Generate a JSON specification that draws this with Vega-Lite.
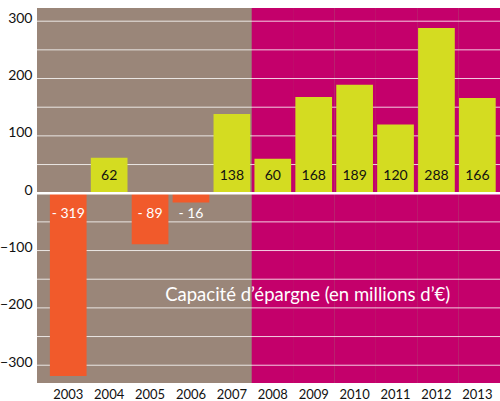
{
  "$schema": "https://vega.github.io/schema/vega-lite/v6.json",
  "width": 463,
  "height": 375,
  "autosize": {"type": "none"},
  "padding": {"left": 37, "top": 8, "right": 0, "bottom": 18},
  "config": {
    "view": {"fill": "#9a8679", "stroke": null},
    "font": "Lato"
  },
  "datasets": {
    "capacite": [
      {"year": "2003", "value": -319, "label": "- 319"},
      {"year": "2004", "value": 62, "label": "62"},
      {"year": "2005", "value": -89, "label": "- 89"},
      {"year": "2006", "value": -16, "label": "- 16"},
      {"year": "2007", "value": 138, "label": "138"},
      {"year": "2008", "value": 60, "label": "60"},
      {"year": "2009", "value": 168, "label": "168"},
      {"year": "2010", "value": 189, "label": "189"},
      {"year": "2011", "value": 120, "label": "120"},
      {"year": "2012", "value": 288, "label": "288"},
      {"year": "2013", "value": 166, "label": "166"}
    ],
    "periode": [
      {"year": "2008"}, {"year": "2009"}, {"year": "2010"},
      {"year": "2011"}, {"year": "2012"}, {"year": "2013"}
    ],
    "grille": [
      {"v": -300}, {"v": -250}, {"v": -200}, {"v": -150}, {"v": -100}, {"v": -50},
      {"v": 50}, {"v": 100}, {"v": 150}, {"v": 200}, {"v": 250}, {"v": 300}
    ],
    "titre": [
      {"year": "2009", "value": -177, "t": "Capacité d’épargne (en millions d’€)"}
    ]
  },
  "resolve": {"scale": {"x": "independent"}},
  "layer": [
    {
      "data": {"name": "periode"},
      "mark": {"type": "rect", "color": "#c4006b"},
      "encoding": {
        "x": {
          "field": "year", "type": "nominal", "axis": null,
          "scale": {
            "domain": ["2003","2004","2005","2006","2007","2008","2009","2010","2011","2012","2013"],
            "paddingInner": 0, "paddingOuter": 0.094, "align": 1
          }
        }
      }
    },
    {
      "layer": [
        {
          "data": {"name": "grille"},
          "mark": {"type": "rule", "color": "white", "strokeWidth": 1, "opacity": 0.8},
          "encoding": {
            "y": {"field": "v", "type": "quantitative"}
          }
        },
        {
          "data": {"name": "capacite"},
          "mark": {"type": "bar"},
          "encoding": {
            "x": {
              "field": "year", "type": "nominal", "title": null,
              "scale": {"paddingInner": 0.103, "paddingOuter": 0.21, "align": 0.75},
              "axis": {
                "labelAngle": 0, "ticks": false, "domain": false,
                "labelFontSize": 13, "labelColor": "#111111", "labelPadding": 5
              }
            },
            "y": {
              "field": "value", "type": "quantitative", "title": null,
              "scale": {"domain": [-331, 323], "nice": false, "zero": false},
              "axis": {
                "values": [-300, -200, -100, 0, 100, 200, 300],
                "grid": false, "ticks": false, "domain": false,
                "labelFontSize": 14, "labelColor": "#111111", "labelPadding": 5,
                "labelOffset": -3
              }
            },
            "color": {
              "condition": {"test": "datum.value < 0", "value": "#f15a2b"},
              "value": "#d4dc21"
            }
          }
        },
        {
          "data": {"values": [{"v": 0}]},
          "mark": {"type": "rule", "color": "white", "strokeWidth": 2.5},
          "encoding": {
            "y": {"field": "v", "type": "quantitative"}
          }
        },
        {
          "data": {"name": "capacite"},
          "transform": [{"filter": "datum.value >= 0"}],
          "mark": {"type": "text", "fontSize": 14, "color": "#111111", "baseline": "middle", "dy": -17},
          "encoding": {
            "x": {"field": "year", "type": "nominal"},
            "y": {"datum": 0},
            "text": {"field": "label"}
          }
        },
        {
          "data": {"name": "capacite"},
          "transform": [{"filter": "datum.value < 0"}],
          "mark": {"type": "text", "fontSize": 14, "color": "white", "baseline": "middle", "dy": 21},
          "encoding": {
            "x": {"field": "year", "type": "nominal"},
            "y": {"datum": 0},
            "text": {"field": "label"}
          }
        },
        {
          "data": {"name": "titre"},
          "mark": {"type": "text", "fontSize": 18.5, "color": "white", "baseline": "middle", "dx": -6},
          "encoding": {
            "x": {"field": "year", "type": "nominal"},
            "y": {"field": "value", "type": "quantitative"},
            "text": {"field": "t"}
          }
        }
      ]
    }
  ]
}
